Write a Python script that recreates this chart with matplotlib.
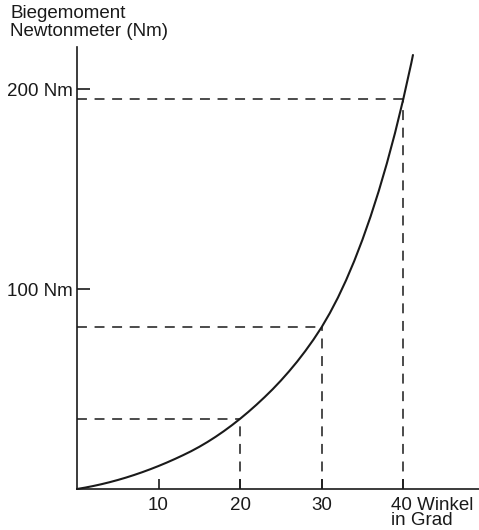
import matplotlib
matplotlib.use("Agg")
import matplotlib.pyplot as plt

plt.rcParams['font.family'] = ['Liberation Sans', 'DejaVu Sans']

# Curve (angle in degrees, bending moment in Nm)
angle = [0, 1, 2, 3, 4, 5, 6, 7, 8, 9, 10, 11, 12, 13, 14, 15, 16, 17, 18, 19, 20,
         21, 22, 23, 24, 25, 26, 27, 28, 29, 30, 31, 32, 33, 34, 35, 36, 37, 38, 39,
         40, 41, 41.2]
moment = [0, 0.7, 1.5, 2.4, 3.4, 4.5, 5.7, 7.0, 8.4, 9.9, 11.5, 13.2, 15.0, 16.9,
          18.9, 21.1, 23.5, 26.1, 28.9, 31.9, 35.1, 38.5, 42.1, 45.9, 49.9, 54.2,
          58.8, 63.7, 69.0, 74.7, 80.9, 87.9, 95.7, 104.4, 114.0, 124.6, 136.2,
          148.9, 162.8, 178.0, 194.7, 213.0, 217.0]

# Marked reference points
mark_angle = [20, 30, 40]
mark_moment = [35, 81, 195]

x_ticks = [10, 20, 30, 40]
x_ticklabels = ['10', '20', '30', '']
y_ticks = [100, 200]
y_ticklabels = ['100 Nm', '200 Nm']

ink = '#1a1a1a'
fs = 13.5

W, H = 479, 530
fig = plt.figure(figsize=(W / 100, H / 100), dpi=100)
ax = fig.add_axes([77 / W, 41 / H, (W - 77) / W, (489 - 47) / H])
ax.set_xlim(0, 49.3)
ax.set_ylim(0, 221)

for s in ['top', 'right']:
    ax.spines[s].set_visible(False)
for s in ['left', 'bottom']:
    ax.spines[s].set_linewidth(1.2)
    ax.spines[s].set_color(ink)

ax.plot(angle, moment, color=ink, lw=1.5, solid_capstyle='round',
        solid_joinstyle='round', clip_on=False)

for a, m in zip(mark_angle, mark_moment):
    ax.plot([0, a], [m, m], color=ink, lw=1.1, linestyle=(0, (6.5, 5)))
    ax.plot([a, a], [0, m], color=ink, lw=1.1, linestyle=(0, (6.5, 5)))

ax.set_xticks(x_ticks)
ax.set_xticklabels(x_ticklabels)
ax.set_yticks(y_ticks)
ax.set_yticklabels(y_ticklabels)
ax.tick_params(axis='x', direction='in', length=7, width=1.2, color=ink,
               labelsize=fs, labelcolor=ink, pad=6)
ax.tick_params(axis='y', direction='in', length=9, width=1.2, color=ink,
               labelsize=fs, labelcolor=ink, pad=3)

ax.annotate('40 Winkel\nin Grad', xy=(40, 0), xycoords='data',
            xytext=(-12, -8), textcoords='offset pixels',
            ha='left', va='top', fontsize=fs, color=ink, linespacing=0.85)

fig.text(10 / W, 1 - 5 / H, 'Biegemoment\nNewtonmeter (Nm)', ha='left', va='top',
         fontsize=fs, color=ink, linespacing=1.05)

fig.savefig('out.png', dpi=100)
